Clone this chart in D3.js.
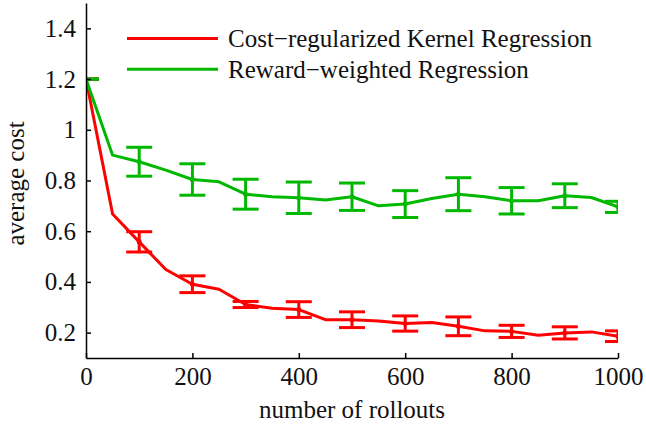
<!DOCTYPE html>
<html>
<head>
<meta charset="utf-8">
<script src="https://cdn.jsdelivr.net/npm/d3@7"></script>
<style>
  body { margin: 0; background: #fff; }
  .axis path, .axis line { stroke: #000; stroke-width: 1.5; }
</style>
</head>
<body>
<svg width="646" height="428"></svg>
<script>
const rollouts = [0, 50, 100, 150, 200, 250, 300, 350, 400, 450, 500,
  550, 600, 650, 700, 750, 800, 850, 900, 950, 1000]

const crkrCost = [1.2, 0.668, 0.558, 0.449, 0.391, 0.371, 0.311, 0.296, 0.291, 0.251, 0.251,
  0.246, 0.236, 0.240, 0.225, 0.207, 0.205, 0.190, 0.199, 0.203, 0.186]
const rwrCost = [1.2, 0.90, 0.874, 0.841, 0.804, 0.795, 0.746, 0.736, 0.732, 0.723, 0.736,
  0.700, 0.707, 0.729, 0.746, 0.736, 0.720, 0.720, 0.740, 0.733, 0.696]

// error bars every 100 rollouts
const errRollouts = [0, 100, 200, 300, 400, 500, 600, 700, 800, 900, 1000]
const crkrErr = [0, 0.040, 0.033, 0.012, 0.031, 0.031, 0.030, 0.037, 0.024, 0.024, 0.021]
const rwrErr = [0, 0.057, 0.062, 0.059, 0.062, 0.054, 0.053, 0.065, 0.052, 0.047, 0.022]

const xTicks = [0, 200, 400, 600, 800, 1000]
const xTickLabels = ["0", "200", "400", "600", "800", "1000"]
const yTicks = [0.2, 0.4, 0.6, 0.8, 1.0, 1.2, 1.4]
const yTickLabels = ["0.2", "0.4", "0.6", "0.8", "1", "1.2", "1.4"]

const seriesNames = ["Cost\u2212regularized Kernel Regression", "Reward\u2212weighted Regression"]
const seriesColors = ["#ff0000", "#00b800"]

const serif = "'Liberation Serif', 'Times New Roman', Times, 'DejaVu Serif', serif"
const fontSize = 25

const svg = d3.select("svg"),
margin = {top: 3, right: 28, bottom: 70, left: 86},
width = +svg.attr("width") - margin.left - margin.right,
height = +svg.attr("height") - margin.top - margin.bottom

const x = d3.scaleLinear().domain([0, 1000]).range([0, width])
const y = d3.scaleLinear().domain([0.1, 1.5]).range([height, 0])

const g = svg.append("g")
.attr("transform", `translate(${margin.left}, ${margin.top})`)

svg.append("defs").append("clipPath")
.attr("id", "plotclip")
.append("rect")
.attr("x", 0).attr("y", 0)
.attr("width", width).attr("height", height)

const series = [
  {name: seriesNames[0], color: seriesColors[0], values: crkrCost, err: crkrErr},
  {name: seriesNames[1], color: seriesColors[1], values: rwrCost, err: rwrErr}
]

const plot = g.append("g").attr("clip-path", "url(#plotclip)")

const line = d3.line()
.x((d, i) => x(rollouts[i]))
.y(d => y(d))

series.forEach(s => {
  plot.append("path")
  .datum(s.values)
  .attr("fill", "none")
  .attr("stroke", s.color)
  .attr("stroke-width", 3)
  .attr("stroke-linejoin", "round")
  .attr("d", line)

  const bars = errRollouts.map((r, i) => {
    const idx = rollouts.indexOf(r)
    return {x: r, v: s.values[idx], e: s.err[i]}
  })
  const capW = 13
  const eb = plot.append("g")
  .attr("stroke", s.color)
  .attr("stroke-width", 3)

  eb.selectAll(".stem").data(bars).enter().append("line")
  .attr("x1", d => x(d.x)).attr("x2", d => x(d.x))
  .attr("y1", d => y(d.v - d.e)).attr("y2", d => y(d.v + d.e))

  eb.selectAll(".captop").data(bars).enter().append("line")
  .attr("x1", d => x(d.x) - capW).attr("x2", d => x(d.x) + capW)
  .attr("y1", d => y(d.v + d.e)).attr("y2", d => y(d.v + d.e))

  eb.selectAll(".capbot").data(bars).enter().append("line")
  .attr("x1", d => x(d.x) - capW).attr("x2", d => x(d.x) + capW)
  .attr("y1", d => y(d.v - d.e)).attr("y2", d => y(d.v - d.e))

  plot.append("g").selectAll("circle").data(bars).enter().append("circle")
  .attr("cx", d => x(d.x)).attr("cy", d => y(d.v))
  .attr("r", 2.5)
  .attr("fill", s.color)
})

g.append("g")
.attr("class", "axis")
.attr("transform", `translate(0, ${height})`)
.call(d3.axisBottom(x).tickValues(xTicks).tickFormat((d, i) => xTickLabels[i])
  .tickSize(-5).tickSizeOuter(0).tickPadding(9))

g.append("g")
.attr("class", "axis")
.call(d3.axisLeft(y).tickValues(yTicks).tickFormat((d, i) => yTickLabels[i])
  .tickSize(-5).tickSizeOuter(0).tickPadding(10))

g.selectAll(".axis")
.attr("font-family", serif)
.attr("font-size", fontSize)
g.selectAll(".axis text")
.attr("fill", "#111")
.attr("font-family", serif)

g.append("text")
.attr("x", width / 2)
.attr("y", height + 60)
.attr("text-anchor", "middle")
.attr("font-family", serif)
.attr("font-size", fontSize)
.attr("fill", "#111")
.text("number of rollouts")

g.append("text")
.attr("transform", `translate(${-62}, ${height / 2 + 3}) rotate(-90)`)
.attr("text-anchor", "middle")
.attr("font-family", serif)
.attr("font-size", fontSize)
.attr("fill", "#111")
.text("average cost")

// legend
const legend = svg.append("g")
series.forEach((s, i) => {
  const ly = 38.5 + i * 30.7
  legend.append("line")
  .attr("x1", 127).attr("x2", 218)
  .attr("y1", ly).attr("y2", ly)
  .attr("stroke", s.color)
  .attr("stroke-width", 3)
  legend.append("text")
  .attr("x", 228)
  .attr("y", ly + 8.5)
  .attr("font-family", serif)
  .attr("font-size", fontSize)
  .attr("fill", "#111")
  .text(s.name)
})
</script>
</body>
</html>
